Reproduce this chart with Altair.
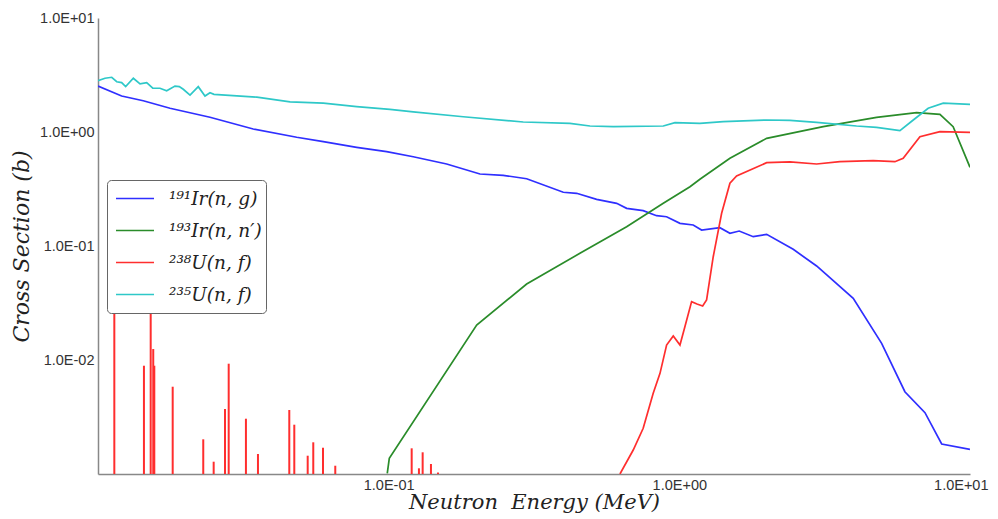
import altair as alt
import pandas as pd

# ---- data (energy in MeV, cross section in barns) ----
reactions = ["¹⁹¹Ir(n, g)", "¹⁹³Ir(n, n′)", "²³⁸U(n, f)", "²³⁵U(n, f)"]
colors = ["#2f2fff", "#2a8c2a", "#ff2e2e", "#2ec8c8"]
widths = [1.7, 1.7, 1.7, 1.3]

ir191_E = [0.0100, 0.01206, 0.01431, 0.01769, 0.02428, 0.0342, 0.04826, 0.0596, 0.0776, 0.0984,
           0.1215, 0.1583, 0.2061, 0.2478, 0.2984, 0.3988, 0.4433, 0.5194, 0.6087, 0.6587,
           0.751, 0.835, 0.904, 1.005, 1.116, 1.193, 1.379, 1.493, 1.607, 1.796,
           1.997, 2.465, 2.967, 3.965, 4.966, 5.97, 7.0, 7.99, 10.0]
ir191_xs = [2.53, 2.07, 1.88, 1.614, 1.346, 1.062, 0.899, 0.822, 0.734, 0.672,
            0.607, 0.524, 0.428, 0.417, 0.389, 0.296, 0.290, 0.2568, 0.2369, 0.2141,
            0.204, 0.1845, 0.1807, 0.1581, 0.1528, 0.1381, 0.1447, 0.1292, 0.1353, 0.1207,
            0.1266, 0.0935, 0.0668, 0.0348, 0.01401, 0.00527, 0.00345, 0.001834, 0.001647]

ir193_E = [0.0989, 0.1005, 0.2008, 0.2984, 0.455, 0.6587, 0.8806, 1.088, 1.177, 1.493,
           1.997, 3.126, 4.77, 6.55, 7.88, 8.75, 10.0]
ir193_xs = [0.001014, 0.001373, 0.02028, 0.0464, 0.0863, 0.1477, 0.2369, 0.3313, 0.3847, 0.588,
            0.880, 1.113, 1.346, 1.476, 1.43, 1.113, 0.490]

u238_E = [0.6248, 0.694, 0.751, 0.813, 0.858, 0.904, 0.953, 1.005, 1.045, 1.102,
          1.150, 1.203, 1.241, 1.308, 1.398, 1.493, 1.574, 1.997, 2.402, 2.967,
          3.568, 4.645, 5.516, 5.89, 6.725, 7.88, 10.0]
u238_xs = [0.001, 0.001624, 0.00252, 0.0051, 0.00764, 0.01353, 0.01624, 0.01353, 0.0196, 0.0325,
           0.031, 0.02977, 0.0336, 0.0805, 0.1935, 0.355, 0.411, 0.538, 0.546, 0.524,
           0.549, 0.560, 0.549, 0.588, 0.909, 1.006, 0.994]

u235_E = [0.0100, 0.01057, 0.01115, 0.01160, 0.01206, 0.01245, 0.01323, 0.01395, 0.01471, 0.01543,
          0.01634, 0.01723, 0.01840, 0.01904, 0.01965, 0.02073, 0.02213, 0.02334, 0.02428, 0.02506,
          0.0352, 0.0458, 0.0596, 0.0776, 0.1010, 0.1215, 0.1806, 0.2904, 0.4204, 0.4927,
          0.5925, 0.8806, 0.966, 1.177, 1.416, 1.997, 2.402, 2.967, 4.07, 4.77,
          5.74, 6.38, 7.18, 8.09, 10.0]
u235_xs = [2.82, 2.96, 3.02, 2.76, 2.71, 2.50, 2.96, 2.64, 2.71, 2.42,
           2.42, 2.30, 2.53, 2.50, 2.37, 2.11, 2.50, 2.07, 2.21, 2.14,
           2.02, 1.84, 1.79, 1.67, 1.58, 1.50, 1.36, 1.224, 1.192, 1.129,
           1.113, 1.129, 1.208, 1.192, 1.231, 1.274, 1.265, 1.216, 1.129, 1.099,
           1.027, 1.274, 1.614, 1.79, 1.75]

# 238U(n,f) resonance lines at low energy
u238_res_E = [0.01138, 0.01439, 0.01518, 0.01549, 0.01562, 0.01807, 0.02302, 0.02500, 0.02735, 0.02816,
              0.03228, 0.03551, 0.04551, 0.04735, 0.05265, 0.05503, 0.05943, 0.06551, 0.1200, 0.1271,
              0.1309, 0.1398, 0.1478]
u238_res_xs = [0.05, 0.00891, 0.04, 0.01248, 0.00891, 0.00583, 0.002015, 0.001282, 0.003718, 0.00928,
               0.003055, 0.001498, 0.003643, 0.002707, 0.001447, 0.001897, 0.0017, 0.001182, 0.00168, 0.001122,
               0.00155, 0.001224, 0.00103]

x_domain = [0.01, 10]
y_domain = [0.001, 10]
x_ticks = [0.1, 1, 10]
x_tick_labels = ["1.0E-01", "1.0E+00", "1.0E+01"]
y_ticks = [0.01, 0.1, 1, 10]
y_tick_labels = ["1.0E-02", "1.0E-01", "1.0E+00", "1.0E+01"]

# ---- tables ----
series = [(ir191_E, ir191_xs), (ir193_E, ir193_xs), (u238_E, u238_xs), (u235_E, u235_xs)]
frames = []
for name, (e, s) in zip(reactions, series):
    frames.append(pd.DataFrame({"E": e, "xs": s, "reaction": name}))
lines_df = pd.concat(frames, ignore_index=True)
res_df = pd.DataFrame({"E": u238_res_E, "xs": u238_res_xs})


def label_expr(vals, labs):
    expr = "''"
    for v, l in zip(reversed(vals), reversed(labs)):
        expr = f"(abs(datum.value - {v}) < {v} * 1e-6 ? '{l}' : {expr})"
    return expr


title_font = "DejaVu Serif"
label_font = "Liberation Sans"

x_enc = alt.X(
    "E:Q",
    scale=alt.Scale(type="log", domain=x_domain, nice=False),
    axis=alt.Axis(
        values=x_ticks, labelExpr=label_expr(x_ticks, x_tick_labels),
        title="Neutron\u00a0 Energy (MeV)", labelFlush=True, labelFlushOffset=18,
        labelPadding=4, titlePadding=0, titleFontSize=21,
    ),
)
y_enc = alt.Y(
    "xs:Q",
    scale=alt.Scale(type="log", domain=y_domain, nice=False),
    axis=alt.Axis(
        values=y_ticks, labelExpr=label_expr(y_ticks, y_tick_labels),
        title="Cross Section (b)", labelPadding=4, titlePadding=6,
    ),
)

lines = alt.Chart(lines_df).mark_line(clip=True).encode(
    x=x_enc,
    y=y_enc,
    color=alt.Color(
        "reaction:N",
        sort=reactions,
        scale=alt.Scale(domain=reactions, range=colors),
        legend=alt.Legend(
            title=None, orient="none", legendX=9, legendY=162,
            symbolType="stroke", symbolSize=1444, symbolStrokeWidth=2.2,
            symbolOffset=4, labelOffset=14,
            labelFont=title_font, labelFontStyle="italic", labelFontSize=18.5,
            labelColor="#222", padding=4, clipHeight=29, rowPadding=3,
            fillColor="white", strokeColor="#666", cornerRadius=4,
        ),
    ),
    strokeWidth=alt.StrokeWidth(
        "reaction:N", scale=alt.Scale(domain=reactions, range=widths), legend=None
    ),
)

spikes = alt.Chart(res_df).mark_rule(color="#ff2e2e", strokeWidth=2, clip=True).encode(
    x=alt.X("E:Q"),
    y=alt.Y("xs:Q"),
    y2=alt.datum(0.001),
)

chart = (
    alt.layer(lines, spikes)
    .properties(
        width=872, height=456,
        autosize="none",
        padding={"left": 90, "top": 10, "right": 20, "bottom": 39},
        background="white",
    )
    .configure_view(stroke=None)
    .configure_axis(
        grid=False, ticks=False,
        domainColor="#888", domainWidth=1.5,
        labelFont=label_font, labelFontSize=14.5, labelColor="#333",
        titleFont=title_font, titleFontStyle="italic", titleFontWeight="normal",
        titleFontSize=22, titleColor="#222",
    )
)

chart.save("out.html", embed_options={"renderer": "svg", "actions": False})
